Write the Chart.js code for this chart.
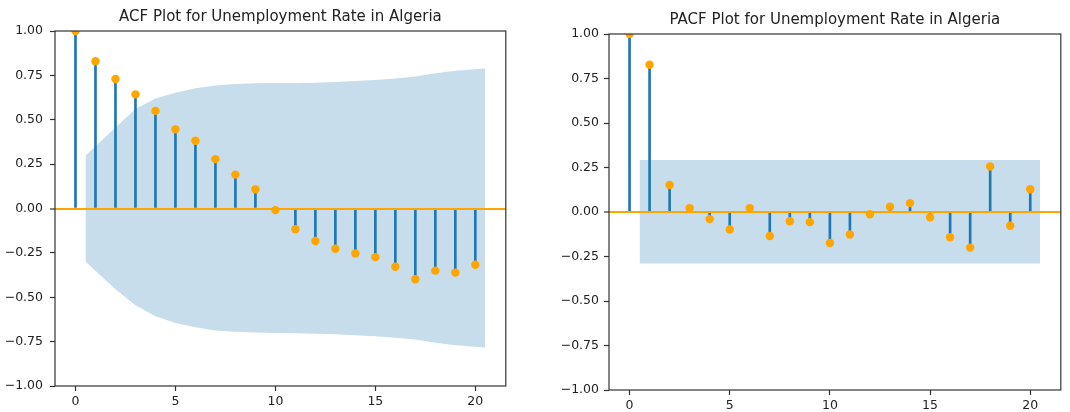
<!DOCTYPE html>
<html>
<head>
<meta charset="utf-8">
<script src="https://cdn.jsdelivr.net/npm/chart.js@4.4.1/dist/chart.umd.min.js"></script>
<style>
    html, body { margin: 0; padding: 0; background: #fff; }
    body { width: 1070px; height: 412px; position: relative; overflow: hidden; }
    canvas { position: absolute; }
    #acf-chart { left: 0; top: 0; }
    #pacf-chart { left: 554px; top: 3px; }
</style>
</head>
<body>
<canvas id="acf-chart" width="510" height="412"></canvas>
<canvas id="pacf-chart" width="511" height="409"></canvas>
<script>
// values
const lags = [0, 1, 2, 3, 4, 5, 6, 7, 8, 9, 10, 11, 12, 13, 14, 15, 16, 17, 18, 19, 20];
const acfValues = [1.0, 0.83, 0.73, 0.643, 0.55, 0.446, 0.382, 0.278, 0.191, 0.108, -0.009,
    -0.117, -0.183, -0.227, -0.253, -0.274, -0.328, -0.399, -0.35, -0.361, -0.317];
const pacfValues = [1.0, 0.827, 0.152, 0.022, -0.04, -0.098, 0.022, -0.135, -0.052, -0.057, -0.174,
    -0.126, -0.013, 0.03, 0.05, -0.03, -0.142, -0.2, 0.256, -0.077, 0.128];

// confidence band (first / last lag shifted by half a step, as statsmodels does)
const bandLags = [0.5, 2, 3, 4, 5, 6, 7, 8, 9, 10, 11, 12, 13, 14, 15, 16, 17, 18, 19, 20.5];
const acfBandUpper = [0.297, 0.457, 0.56, 0.62, 0.652, 0.677, 0.693, 0.702, 0.706, 0.707,
    0.707, 0.709, 0.712, 0.718, 0.724, 0.733, 0.744, 0.762, 0.776, 0.789];
const acfBandLower = [-0.298, -0.455, -0.545, -0.607, -0.645, -0.669, -0.687, -0.695, -0.699, -0.702,
    -0.703, -0.705, -0.709, -0.714, -0.72, -0.728, -0.738, -0.756, -0.77, -0.783];
const pacfBandUpper = [0.292, 0.292, 0.292, 0.292, 0.292, 0.292, 0.292, 0.292, 0.292, 0.292,
    0.292, 0.292, 0.292, 0.292, 0.292, 0.292, 0.292, 0.292, 0.292, 0.292];
const pacfBandLower = [-0.29, -0.29, -0.29, -0.29, -0.29, -0.29, -0.29, -0.29, -0.29, -0.29,
    -0.29, -0.29, -0.29, -0.29, -0.29, -0.29, -0.29, -0.29, -0.29, -0.29];

const xTicks = [0, 5, 10, 15, 20];
const yTicks = [-1, -0.75, -0.5, -0.25, 0, 0.25, 0.5, 0.75, 1];
const acfTitle = 'ACF Plot for Unemployment Rate in Algeria';
const pacfTitle = 'PACF Plot for Unemployment Rate in Algeria';

const corrPlots = {
    stemColor: '#1f77b4',
    markerColor: '#ffa500',
    bandColor: 'rgba(31, 119, 180, 0.25)',
    spineColor: '#333',
    textColor: '#222',

    init: function () {
        Chart.defaults.font.family = "'DejaVu Sans', sans-serif";
        Chart.defaults.animation = false;

        this.generateChart('acf-chart', acfTitle, acfValues, acfBandUpper, acfBandLower, {yPad: 7, xHeight: 26});
        this.generateChart('pacf-chart', pacfTitle, pacfValues, pacfBandUpper, pacfBandLower, {yPad: 5, xHeight: 22});
    },

    toPoints: function (xs, ys) {
        return xs.map((x, i) => ({x: x, y: ys[i]}));
    },

    formatY: function (v) {
        return (v < 0 ? '\u2212' : '') + Math.abs(v).toFixed(2);
    },

    // draws the four spines round the plot area
    framePlugin: {
        id: 'frame',
        afterDraw(chart) {
            const {ctx, chartArea: a} = chart;
            ctx.save();
            ctx.strokeStyle = corrPlots.spineColor;
            ctx.lineWidth = 1.2;
            ctx.strokeRect(a.left, a.top, a.right - a.left, a.bottom - a.top);
            ctx.restore();
        }
    },

    generateChart: function (id, title, values, bandUpper, bandLower, layout) {
        const self = this;
        const el = document.getElementById(id).getContext('2d');

        new Chart(el, {
            type: 'bar',
            data: {
                datasets: [
                    {
                        type: 'line',
                        data: this.toPoints(bandLags, bandUpper),
                        fill: '+1',
                        backgroundColor: this.bandColor,
                        borderColor: 'rgba(0,0,0,0)',
                        borderWidth: 0,
                        pointRadius: 0,
                        tension: 0,
                        order: 3
                    },
                    {
                        type: 'line',
                        data: this.toPoints(bandLags, bandLower),
                        fill: false,
                        borderColor: 'rgba(0,0,0,0)',
                        borderWidth: 0,
                        pointRadius: 0,
                        tension: 0,
                        order: 3
                    },
                    {
                        type: 'bar',
                        data: this.toPoints(lags, values),
                        backgroundColor: this.stemColor,
                        borderWidth: 0,
                        barThickness: 2,
                        order: 2
                    },
                    {
                        type: 'line',
                        data: this.toPoints(lags, values),
                        showLine: false,
                        pointRadius: 4.2,
                        pointBorderWidth: 0,
                        pointBackgroundColor: this.markerColor,
                        clip: 0,
                        order: 1
                    }
                ]
            },
            options: {
                responsive: false,
                layout: {padding: {left: 0, right: 3, top: 0, bottom: 0}},
                plugins: {
                    legend: {display: false},
                    tooltip: {enabled: false},
                    title: {
                        display: true,
                        fullSize: false, // centre over the plot area, like matplotlib
                        text: title,
                        color: this.textColor,
                        font: {size: 15, weight: 'normal'},
                        padding: {top: 8, bottom: 5}
                    }
                },
                scales: {
                    x: {
                        type: 'linear',
                        min: -1.025,
                        max: 21.525,
                        offset: false,
                        afterBuildTicks: (scale) => { scale.ticks = xTicks.map(v => ({value: v})); },
                        afterFit: (scale) => { scale.height = layout.xHeight; },
                        border: {display: false},
                        grid: {
                            offset: false,
                            color: 'rgba(0,0,0,0)',
                            tickColor: this.spineColor,
                            tickLength: 5,
                            tickWidth: 1.2
                        },
                        ticks: {
                            color: this.textColor,
                            font: {size: 12.5},
                            padding: 3,
                            maxRotation: 0,
                            callback: (v) => String(v)
                        }
                    },
                    y: {
                        type: 'linear',
                        min: -1,
                        max: 1,
                        afterBuildTicks: (scale) => { scale.ticks = yTicks.map(v => ({value: v})); },
                        afterFit: (scale) => { scale.width = 55; },
                        border: {display: false},
                        grid: {
                            z: 1,
                            color: (ctx) => (ctx.tick && ctx.tick.value === 0) ? self.markerColor : 'rgba(0,0,0,0)',
                            lineWidth: (ctx) => (ctx.tick && ctx.tick.value === 0) ? 2 : 1,
                            tickColor: this.spineColor,
                            tickLength: 5,
                            tickWidth: 1.2
                        },
                        ticks: {
                            color: this.textColor,
                            font: {size: 12.5},
                            padding: layout.yPad,
                            callback: (v) => self.formatY(v)
                        }
                    }
                }
            },
            plugins: [this.framePlugin]
        });
    }
};

corrPlots.init();
</script>
</body>
</html>
